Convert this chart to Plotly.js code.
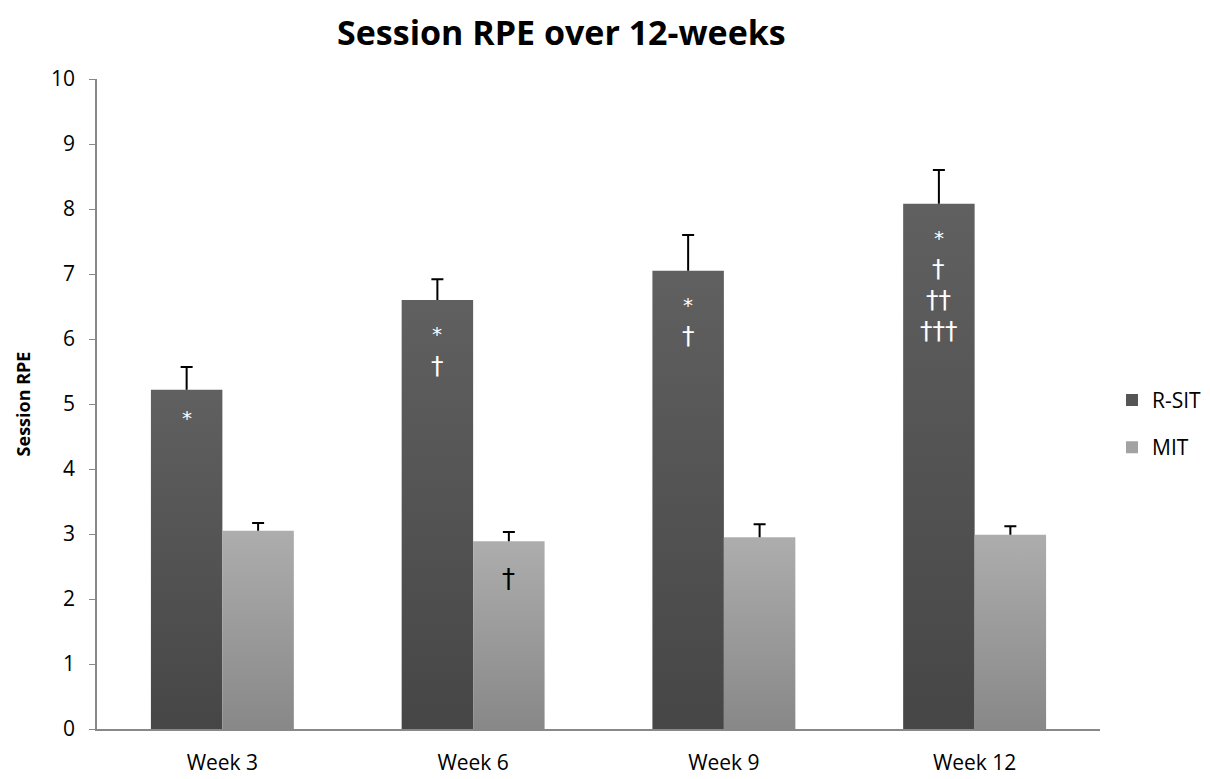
<!DOCTYPE html>
<html><head><meta charset="utf-8">
<script src="https://cdn.plot.ly/plotly-3.0.1.min.js"></script>
<style>html,body{margin:0;padding:0;background:#fff}#chart{width:1210px;height:779px}</style>
</head><body><div id="chart"></div>
<script>
const categories = ["Week 3", "Week 6", "Week 9", "Week 12"];
const rsitValues = [5.22, 6.60, 7.05, 8.08];
const rsitErrors = [0.35, 0.32, 0.55, 0.52];
const mitValues = [3.05, 2.89, 2.95, 2.99];
const mitErrors = [0.12, 0.14, 0.20, 0.13];
// significance markers per category
const rsitMarkers = [
  ["*"], ["*", "†"], ["*", "†"], ["*", "†", "††", "†††"]
];
const mitMarkers = [[], ["†"], [], []];

const font = "Open Sans, Liberation Sans, sans-serif";
const traces = [
  {type: "bar", name: "R-SIT", x: [0,1,2,3], y: rsitValues,
   marker: {color: "#555555"}, legendgroup: "a",
   error_y: {type: "data", array: rsitErrors, arrayminus: rsitErrors.map(()=>0), color: "#000", thickness: 2, width: 6}},
  {type: "bar", name: "MIT", x: [0,1,2,3], y: mitValues,
   marker: {color: "#a2a2a2"}, legendgroup: "b",
   error_y: {type: "data", array: mitErrors, arrayminus: mitErrors.map(()=>0), color: "#000", thickness: 2, width: 6}}
];

const annotations = [];
const off = 0.143;
rsitMarkers.forEach((list, i) => {
  list.forEach((s, k) => {
    annotations.push({x: i - off, y: rsitValues[i], xref: "x", yref: "y", text: s, showarrow: false,
      yanchor: "middle", yshift: -(rsitValues[i] > 6 ? 34 : 28) - 31 * k,
      font: {family: "DejaVu Sans, sans-serif", size: s === "*" ? 20 : 25, color: "#ffffff"}});
  });
});
mitMarkers.forEach((list, i) => {
  list.forEach((s, k) => {
    annotations.push({x: i + off, y: mitValues[i], xref: "x", yref: "y", text: s, showarrow: false,
      yanchor: "middle", yshift: -38 - 31 * k,
      font: {family: "DejaVu Sans, sans-serif", size: 26, color: "#000000"}});
  });
});

const layout = {
  width: 1210, height: 779,
  margin: {l: 97, r: 110, t: 79, b: 50},
  paper_bgcolor: "#fff", plot_bgcolor: "#fff",
  title: {text: "<b>Session RPE over 12-weeks</b>", xref: "paper", x: 0.463, xanchor: "center", yref: "container", y: 0.958, yanchor: "middle",
    font: {family: font, size: 34, color: "#000"}},
  barmode: "group", bargap: 0.43, bargroupgap: 0,
  showlegend: true,
  legend: {xref: "container", yref: "container", x: 0.919, xanchor: "left", y: 0.456, yanchor: "middle",
    font: {family: font, size: 21, color: "#000"},
    tracegroupgap: 17, traceorder: "grouped", itemwidth: 30},
  xaxis: {type: "linear", tickvals: [0,1,2,3], ticktext: categories, range: [-0.5, 3.5],
    showgrid: false, zeroline: false, showline: true, linecolor: "#888", linewidth: 1.5,
    ticks: "", ticklabelstandoff: 14, tickfont: {family: font, size: 21, color: "#000"}},
  yaxis: {range: [0, 10], dtick: 1, showgrid: false, zeroline: false, showline: true, linecolor: "#888", linewidth: 1.5,
    ticks: "outside", ticklen: 6, tickcolor: "#888", ticklabelstandoff: 10, tickfont: {family: font, size: 21, color: "#000"},
    title: {text: "<b>Session RPE</b>", font: {family: font, size: 18, color: "#000"}, standoff: 16}},
  shapes: [-0.5, 0.5, 1.5, 2.5, 3.5].map(v => ({type: "line", xref: "x", yref: "y", x0: v, x1: v, y0: 0, y1: -0.12, line: {color: "#888", width: 1.5}})),
  annotations: annotations
};

Plotly.newPlot("chart", traces, layout, {displayModeBar: false}).then(gd => {
  const svg = gd.querySelector("svg.main-svg");
  const ns = "http://www.w3.org/2000/svg";
  let defs = svg.querySelector("defs");
  if (!defs) { defs = document.createElementNS(ns, "defs"); svg.insertBefore(defs, svg.firstChild); }
  const mk = (id, top, bot) => {
    const g = document.createElementNS(ns, "linearGradient");
    g.setAttribute("id", id); g.setAttribute("x1", "0"); g.setAttribute("y1", "0"); g.setAttribute("x2", "0"); g.setAttribute("y2", "1");
    [[0, top], [1, bot]].forEach(([o, c]) => {
      const st = document.createElementNS(ns, "stop"); st.setAttribute("offset", o); st.setAttribute("stop-color", c); g.appendChild(st);
    });
    defs.appendChild(g);
  };
  mk("gradA", "#606060", "#464646");
  mk("gradB", "#adadad", "#888888");
  gd.querySelectorAll(".barlayer .trace").forEach((tg, i) => {
    tg.querySelectorAll(".point path").forEach(p => { p.style.fill = i === 0 ? "url(#gradA)" : "url(#gradB)"; });
  });
  // keep only the upper cap of each error bar
  gd.querySelectorAll(".errorbar path.yerror").forEach(p => {
    const d = p.getAttribute("d");
    if (d) p.setAttribute("d", d.replace(/(V[-\d.e]+).*$/, "$1"));
  });
});
</script></body></html>
